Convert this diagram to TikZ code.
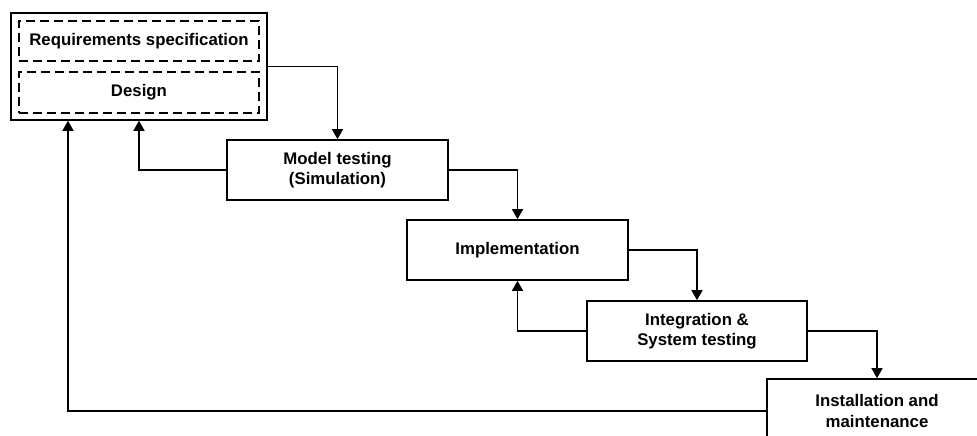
\documentclass[tikz,border=0pt]{standalone}
\usepackage{fontspec}
\setmainfont{Liberation Sans}
\usetikzlibrary{arrows.meta}
\begin{document}
\begin{tikzpicture}[x=1pt,y=-1pt,
  box/.style={draw, line width=1.6pt, rectangle, inner sep=0pt, align=center,
    font=\fontsize{16.8}{20.5}\selectfont\bfseries},
  dbox/.style={box, line width=1.4pt, dash pattern=on 9pt off 5pt},
  conn/.style={line width=1.5pt, -{Triangle[length=10pt,width=11pt]}}]
\useasboundingbox (0,0) rectangle (977,436);
\clip (0,0) rectangle (977,436);
\node[box, minimum width=256pt, minimum height=107pt] (outer) at (139,66.5) {};
\node[dbox, minimum width=240pt, minimum height=40pt] (req) at (139,41) {Requirements specification};
\node[dbox, minimum width=240pt, minimum height=41pt] (des) at (139,92.5) {Design};
\node[box, minimum width=221pt, minimum height=60pt] (model) at (337.5,170) {Model testing\\(Simulation)};
\node[box, minimum width=221pt, minimum height=60pt] (impl) at (517.5,250) {Implementation};
\node[box, minimum width=220pt, minimum height=60pt] (integ) at (697,331) {Integration \&\\System testing};
\node[box, minimum width=220pt, minimum height=64pt] (inst) at (877,411) {Installation and\\maintenance};
\coordinate (fb) at ([xshift=-71pt]outer.south);
\draw[conn] (outer.east) -| (model.north);
\draw[conn] (model.east) -| (impl.north);
\draw[conn] (impl.east) -| (integ.north);
\draw[conn] (integ.east) -| (inst.north);
\draw[conn] (model.west) -| (outer.south);
\draw[conn] (integ.west) -| (impl.south);
\draw[conn] (inst.west) -| (fb);
\end{tikzpicture}
\end{document}
